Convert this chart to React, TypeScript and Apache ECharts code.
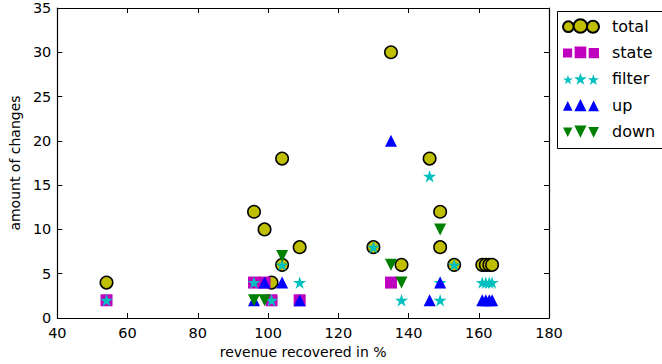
import React, { useEffect, useRef } from "react";
import * as echarts from "echarts";

// ---- data ----
const xTicks = [40, 60, 80, 100, 120, 140, 160, 180];
const yTicks = [0, 5, 10, 15, 20, 25, 30, 35];
const seriesNames = ["total", "state", "filter", "up", "down"];

const totalPoints = [
  [54, 4], [96, 12], [99, 10], [101, 4], [104, 18], [104, 6], [109, 8],
  [130, 8], [135, 30], [138, 6], [146, 18], [149, 12], [149, 8], [153, 6],
  [161, 6], [162, 6], [163, 6], [163.8, 6],
];
const statePoints = [
  [54, 2], [96, 4], [99, 4], [101, 2], [109, 2], [135, 4],
];
const filterPoints = [
  [54, 2], [96, 4], [101, 2], [104, 6], [109, 4], [130, 8], [138, 2],
  [146, 16], [149, 4], [149, 2], [153, 6], [161, 4], [162, 4], [163, 4], [163.8, 4],
];
const upPoints = [
  [96, 2], [99, 4], [104, 4], [109, 2], [135, 20], [146, 2], [149, 4],
  [161, 2], [162, 2], [163, 2], [163.8, 2],
];
const downPoints = [
  [96, 2], [99, 2], [104, 7], [135, 6], [138, 4], [149, 10],
];

// ---- marker shapes ----
const f = (n: number) => Math.round(n * 100) / 100;
function circ(cx: number, cy: number, r: number) {
  return `M${f(cx - r)} ${f(cy)}A${r} ${r} 0 1 0 ${f(cx + r)} ${f(cy)}A${r} ${r} 0 1 0 ${f(cx - r)} ${f(cy)}Z`;
}
function sq(cx: number, cy: number, h: number) {
  return `M${f(cx - h)} ${f(cy - h)}L${f(cx + h)} ${f(cy - h)}L${f(cx + h)} ${f(cy + h)}L${f(cx - h)} ${f(cy + h)}Z`;
}
function star(cx: number, cy: number, r: number) {
  const pts: string[] = [];
  for (let i = 0; i < 10; i++) {
    const a = (-90 + i * 36) * Math.PI / 180;
    const rr = i % 2 === 0 ? r : r * 0.382;
    pts.push(`${f(cx + rr * Math.cos(a))} ${f(cy + rr * Math.sin(a))}`);
  }
  return "M" + pts.join("L") + "Z";
}
function tri(cx: number, cy: number, h: number, down: boolean) {
  if (!down) return `M${f(cx)} ${f(cy - h)}L${f(cx + h)} ${f(cy + h)}L${f(cx - h)} ${f(cy + h)}Z`;
  return `M${f(cx - h)} ${f(cy - h)}L${f(cx + h)} ${f(cy - h)}L${f(cx)} ${f(cy + h)}Z`;
}
const lx = [5.5, 17.5, 30];
const ly = [7.5, 6.8, 7.6];
const lr = [5.3, 6.8, 6];
const iconOf = (fn: (cx: number, cy: number, r: number) => string) =>
  "path://" + [0, 1, 2].map((i) => fn(lx[i], ly[i], lr[i])).join("");
const legendIcons = [
  iconOf(circ),
  iconOf((x, y, r) => sq(x, y, r * 0.8)),
  iconOf((x, y, r) => star(x, y, r * 0.95)),
  iconOf((x, y, r) => tri(x, y, r * 0.85, false)),
  iconOf((x, y, r) => tri(x, y, r * 0.85, true)),
];
const starSymbol = "path://" + star(50, 50, 50);

const FONT = "DejaVu Sans";

export default function App() {
  const ref = useRef<HTMLDivElement>(null);
  useEffect(() => {
    if (!ref.current) return;
    const chart = echarts.init(ref.current, null, { renderer: "svg" });
    const axisCommon = {
      type: "value" as const,
      axisLine: { show: true, onZero: false, lineStyle: { color: "#000", width: 1.2 } },
      axisTick: { show: true, inside: true, length: 5, lineStyle: { color: "#000", width: 1 } },
      splitLine: { show: false },
    };
    chart.setOption({
      animation: false,
      backgroundColor: "#fff",
      textStyle: { fontFamily: FONT },
      grid: { left: 54, top: 8, width: 495, height: 310, containLabel: false },
      xAxis: [
        {
          ...axisCommon,
          min: xTicks[0], max: xTicks[xTicks.length - 1], interval: 20,
          position: "bottom",
          axisLabel: { color: "#000", fontSize: 14.5, margin: 7, fontFamily: FONT },
          name: "revenue recovered in %",
          nameLocation: "middle",
          nameGap: 27,
          nameTextStyle: { color: "#000", fontSize: 14, fontFamily: FONT },
        },
        {
          ...axisCommon,
          min: xTicks[0], max: xTicks[xTicks.length - 1], interval: 20,
          position: "top",
          axisLabel: { show: false },
        },
      ],
      yAxis: [
        {
          ...axisCommon,
          min: yTicks[0], max: yTicks[yTicks.length - 1], interval: 5,
          position: "left",
          axisLabel: { color: "#000", fontSize: 14.5, margin: 6, fontFamily: FONT },
          name: "amount of changes",
          nameLocation: "middle",
          nameGap: 33,
          nameTextStyle: { color: "#000", fontSize: 14, fontFamily: FONT },
        },
        {
          ...axisCommon,
          min: yTicks[0], max: yTicks[yTicks.length - 1], interval: 5,
          position: "right",
          axisLabel: { show: false },
        },
      ],
      legend: {
        orient: "vertical",
        left: 562,
        top: 18,
        itemWidth: 36,
        itemHeight: 14,
        itemGap: 10.4,
        padding: 0,
        selectedMode: false,
        textStyle: { color: "#000", fontSize: 16, fontFamily: FONT, lineHeight: 14, padding: [0, 0, 0, 8] },
        data: seriesNames.map((n, i) => ({ name: n, icon: legendIcons[i] })),
      },
      graphic: [
        {
          type: "rect",
          left: 555, top: 9,
          shape: { x: 0, y: 0, width: 105, height: 137 },
          style: { fill: "none", stroke: "#000", lineWidth: 1 },
          silent: true,
        },
      ],
      series: [
        {
          name: seriesNames[0], type: "scatter", data: totalPoints,
          symbol: "circle", symbolSize: 12.5,
          itemStyle: { color: "#bfbf00", borderColor: "#000", borderWidth: 1.5, opacity: 1 },
        },
        {
          name: seriesNames[1], type: "scatter", data: statePoints,
          symbol: "rect", symbolSize: 12,
          itemStyle: { color: "#bf00bf", opacity: 1 },
        },
        {
          name: seriesNames[2], type: "scatter", data: filterPoints,
          symbol: starSymbol, symbolSize: 13, symbolKeepAspect: true,
          itemStyle: { color: "#00bfbf", opacity: 1 },
        },
        {
          name: seriesNames[3], type: "scatter", data: upPoints,
          symbol: "triangle", symbolSize: 12,
          itemStyle: { color: "#0000ff", opacity: 1 },
        },
        {
          name: seriesNames[4], type: "scatter", data: downPoints,
          symbol: "triangle", symbolSize: 12, symbolRotate: 180,
          itemStyle: { color: "#008000", opacity: 1 },
        },
      ],
    });
    return () => chart.dispose();
  }, []);
  return (
    <div
      ref={ref}
      style={{ position: "fixed", left: 0, top: 0, width: 662, height: 364, background: "#fff" }}
    />
  );
}
